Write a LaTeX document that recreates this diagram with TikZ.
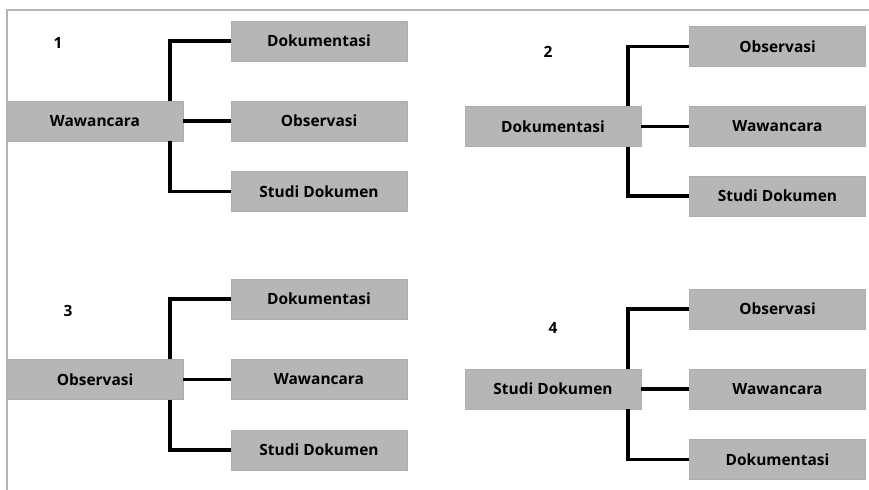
\documentclass[tikz,border=0pt]{standalone}
\usepackage{fontspec}
\setmainfont{Open Sans}
\usepackage{tikz}
\usetikzlibrary{positioning}
\definecolor{boxgray}{RGB}{182,182,182}
\definecolor{framegray}{RGB}{180,180,180}
\tikzset{
  item/.style={rectangle, fill=boxgray, draw=boxgray!95!black, line width=0.4pt, text=black, font=\bfseries\fontsize{13.2}{15}\selectfont, minimum width=5.28cm, minimum height=1.2cm, inner sep=0pt},
  num/.style={text=black, font=\bfseries\fontsize{13.2}{15}\selectfont, inner sep=0pt},
  link/.style={black, line width=3pt},
}
\begin{document}
\begin{tikzpicture}
\useasboundingbox (0,0) rectangle (26.07,-14.7);
% frame
\coordinate (FT) at (0.21,-0.3);
\coordinate (FR) at (26.07,-0.3);
\coordinate (FB) at (0.21,-14.7);
\draw[framegray, line width=1.2pt] (FR) -- (FT) -- (FB);
%============ 1
\node[num] (N1) at (1.74,-1.29) {1};
\node[item, xshift=2.85cm, yshift=-3.63cm] (WA) {Wawancara};
\node[item, xshift=9.57cm, yshift=-1.23cm] (WA1) {Dokumentasi};
\node[item, xshift=9.57cm, yshift=-3.63cm] (WA2) {Observasi};
\node[item, xshift=9.57cm, yshift=-5.745cm] (WA3) {Studi Dokumen};
%============ 2
\node[num] (N2) at (16.44,-1.56) {2};
\node[item, xshift=16.59cm, yshift=-3.795cm] (DO) {Dokumentasi};
\node[item, xshift=23.325cm, yshift=-1.395cm] (DO1) {Observasi};
\node[item, xshift=23.325cm, yshift=-3.795cm] (DO2) {Wawancara};
\node[item, xshift=23.325cm, yshift=-5.88cm] (DO3) {Studi Dokumen};
%============ 3
\node[num] (N3) at (2.04,-9.33) {3};
\node[item, xshift=2.85cm, yshift=-11.385cm] (OB) {Observasi};
\node[item, xshift=9.57cm, yshift=-8.97cm] (OB1) {Dokumentasi};
\node[item, xshift=9.57cm, yshift=-11.385cm] (OB2) {Wawancara};
\node[item, xshift=9.57cm, yshift=-13.5cm] (OB3) {Studi Dokumen};
%============ 4
\node[num] (N4) at (16.59,-9.84) {4};
\node[item, xshift=16.59cm, yshift=-11.67cm] (SD) {Studi Dokumen};
\node[item, xshift=23.325cm, yshift=-9.27cm] (SD1) {Observasi};
\node[item, xshift=23.325cm, yshift=-11.67cm] (SD2) {Wawancara};
\node[item, xshift=23.325cm, yshift=-13.785cm] (SD3) {Dokumentasi};
%==========

\foreach \p in {WA, DO, OB, SD} {
  \draw[link] ([xshift=-0.39cm]\p.north east) |- (\p1.west);
  \draw[link] (\p.east) -- (\p2.west);
  \draw[link] ([xshift=-0.39cm]\p.south east) |- (\p3.west);
}

\end{tikzpicture}
\end{document}
